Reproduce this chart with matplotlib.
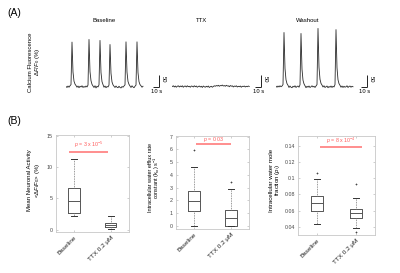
import matplotlib
matplotlib.use('Agg')
import matplotlib.pyplot as plt
import numpy as np

plt.rcParams['font.family'] = ['Liberation Sans', 'DejaVu Sans']
plt.rcParams['mathtext.fontset'] = 'custom'
plt.rcParams['mathtext.rm'] = 'Liberation Sans'
plt.rcParams['mathtext.it'] = 'Liberation Sans:italic'
plt.rcParams['mathtext.bf'] = 'Liberation Sans:bold'

# ---------------- data: panel A (calcium traces, dF/F0 in %) ----------------
trace_titles = ["Baseline", "TTX", "Washout"]
trace_baseline = [0, -4, 2, -3, 3, 8, 185, 60, 22, 10, 4, -3, 2, -5, 1, -2, 3, -4, 0, -3,
                  2, -2, 6, 196, 62, 24, 9, 2, -4, 3, -6, 1, -2, 7, 192, 58, 20, 8, -3, 2,
                  -5, 0, -2, 6, 175, 55, 19, 7, 1, -4, 2, -3, -5, 1, -4, -6, 0, -3, 2, 7,
                  186, 60, 21, 9, 2, -4, 3, -2, -5, 1, 6, 186, 58, 20, 8, 3, -3, 1]
trace_ttx = [0, 3, -2, 2, -3, 1, 3, -2, 2, -1, 3, -3, 1, 2, -2, 3, -1, 1, -3, 2,
             1, -2, 3, -1, 2, -3, 0, 2, -2, 1, -4, 2, -1, -3, 1, -2, 2, -4, -1, 1,
             -3, 0, 3, 1, 4, 2, 5, 1, 4, 3, 6, 2, 4, 1, 5, 2, 3, -1, 4, 1,
             3, -2, 2, 0, 3, -2, 1, -1, 2, -3, 1, 0, 2, -2, 1, -1, 2, 0]
trace_washout = [1, -3, 2, -2, 3, -1, 2, 8, 225, 75, 28, 12, 5, -4, 2, -3, -5, 1, -2, 3,
                 -4, 0, 2, -3, 7, 221, 72, 26, 11, 3, -5, 1, -3, 2, -4, -1, 3, -2, 1, -4,
                 2, 8, 242, 80, 30, 13, 6, -2, 3, -4, -1, 2, -5, 0, -3, 2, -4, 1, -2, 8,
                 237, 78, 28, 12, 5, -3, 2, -4, 1, -3, -1, 3, -4, 0, 2, -3, 1, -1]
sample_dt = 10 / 6.0          # seconds per sample
scale_time = 10               # s
scale_amp = 50                # %

# ---------------- data: panel B (box plots) ----------------
groups = ["Baseline", "TTX 0.2 \u03bcM"]

act_q1 = [2.67, 0.43]; act_med = [4.65, 0.75]; act_q3 = [6.6, 1.07]
act_lo = [2.2, 0.05];  act_hi = [11.3, 2.2];   act_fl = [[], []]
act_p = r"$p$ = 3 x 10$^{-5}$"

kio_q1 = [1.15, 0.0];  kio_med = [1.92, 0.63]; kio_q3 = [2.73, 1.23]
kio_lo = [0.0, 0.0];   kio_hi = [4.6, 2.86];   kio_fl = [[5.93], [3.46]]
kio_p = r"$p$ = 0.03"

pi_q1 = [0.0597, 0.0515]; pi_med = [0.0699, 0.0576]; pi_q3 = [0.0777, 0.0625]
pi_lo = [0.0433, 0.0392]; pi_hi = [0.0986, 0.0752]; pi_fl = [[0.1068], [0.0933, 0.0334]]
pi_p = r"$p$ = 8 x 10$^{-4}$"

act_ticks = [0, 5, 10, 15]
kio_ticks = [0, 1, 2, 3, 4, 5, 6, 7]
pi_ticks = [0.04, 0.06, 0.08, 0.1, 0.12, 0.14]
pi_ticklabels = ["0.04", "0.06", "0.08", "0.1", "0.12", "0.14"]

# ---------------- figure ----------------
W, H = 400, 273
fig = plt.figure(figsize=(W / 100, H / 100), dpi=100)


def px_axes(l, t, r, b):
    return fig.add_axes([l / W, 1 - b / H, (r - l) / W, (b - t) / H])


def ftext(x, y, s, **kw):
    return fig.text(x / W, 1 - y / H, s, **kw)


ftext(7, 13, "(A)", fontsize=7.5, va='center', ha='left')
ftext(7, 121, "(B)", fontsize=7.5, va='center', ha='left')

# ---- Panel A ----
px_per_amp = 12 / 50.0          # px per %
traces = [trace_baseline, trace_ttx, trace_washout]
trace_left = [66, 172.3, 276]
bar_left = [153.3, 255, 361.3]
title_x = [104, 202, 308]
base_y = 86.5
ax_top, ax_bot = 25, 97
for tr, l, bl, tx, title in zip(traces, trace_left, bar_left, title_x, trace_titles):
    r = bl + 20
    ax = px_axes(l, ax_top, r, ax_bot)
    t = np.arange(len(tr)) * sample_dt
    ax.plot(t, tr, color='#2a2a2a', lw=0.6)
    ax.set_xlim(0, (r - l) * sample_dt)
    ax.set_ylim(-(ax_bot - base_y) / px_per_amp, (base_y - ax_top) / px_per_amp)
    ax.axis('off')
    xb = (bl - l) * sample_dt
    ax.plot([xb, xb + scale_time], [0, 0], color='#222', lw=0.7, solid_capstyle='butt')
    ax.plot([xb + scale_time, xb + scale_time], [0, scale_amp], color='#222', lw=0.7,
            solid_capstyle='butt')
    ax.text(xb + scale_time / 2 + 0.5, -4.5 / px_per_amp, "10 s", fontsize=4.2,
            ha='center', va='center')
    ax.text(xb + scale_time + 4.5 * sample_dt, 30, "50", fontsize=4.2, rotation=270,
            ha='center', va='center')
    ftext(tx, 20, title, fontsize=4.3, ha='center', va='center')

ftext(30.5, 62, "Calcium Fluorescence", fontsize=4.3, rotation=90, ha='center', va='center')
ftext(37.5, 62, r"$\Delta F/F_0$ (%)", fontsize=4.3, rotation=90, ha='center', va='center')

# ---- Panel B ----
def boxpanel(rect, q1, med, q3, lo, hi, fl, ylim, ticks, ticklabels, ptext, pline_x, pline_y,
             ptext_xy):
    ax = px_axes(*rect)
    stats = []
    for i in range(2):
        stats.append(dict(q1=q1[i], med=med[i], q3=q3[i], whislo=lo[i], whishi=hi[i],
                          fliers=fl[i]))
    ax.bxp(stats, positions=[1, 2], widths=0.31, capwidths=0.16,
           boxprops=dict(color='#555555', lw=0.7),
           medianprops=dict(color='#555555', lw=0.7),
           whiskerprops=dict(color='#777777', lw=0.6, linestyle=(0, (1, 1))),
           capprops=dict(color='#333333', lw=0.7),
           flierprops=dict(marker='+', markersize=2, markeredgewidth=0.5,
                           markeredgecolor='#444444'))
    ax.set_xlim(0.5, 2.5)
    ax.set_ylim(*ylim)
    ax.set_yticks(ticks)
    ax.set_yticklabels(ticklabels)
    ax.set_xticks([1, 2])
    ax.set_xticklabels(groups, rotation=45, ha='right', rotation_mode='anchor',
                       fontsize=4.6, color='#222222')
    ax.tick_params(axis='y', labelsize=3.8, labelcolor='#444444', direction='in', length=1.5,
                   width=0.4, color='#aaaaaa', left=True, right=True, pad=2)
    ax.tick_params(axis='x', direction='in', length=1.5, width=0.4, color='#aaaaaa',
                   top=True, bottom=True, pad=2)
    for s in ax.spines.values():
        s.set_color('#c8c8c8')
        s.set_linewidth(0.6)
    ax.plot(pline_x, [pline_y, pline_y], color='#ff7070', lw=1.1, solid_capstyle='butt')
    ax.text(ptext_xy[0], ptext_xy[1], ptext, color='#ff5a5a', fontsize=3.8, ha='center',
            va='bottom')
    return ax


boxpanel((55.65, 135, 129, 231.7), act_q1, act_med, act_q3, act_lo, act_hi, act_fl,
         (-0.32, 15.16), act_ticks, [str(v) for v in act_ticks], act_p,
         [0.86, 1.93], 12.5, (1.4, 12.75))
boxpanel((175.7, 136, 249.3, 229.3), kio_q1, kio_med, kio_q3, kio_lo, kio_hi, kio_fl,
         (-0.26, 7.05), kio_ticks, [str(v) for v in kio_ticks], kio_p,
         [1.04, 1.99], 6.4, (1.52, 6.42))
boxpanel((298.3, 135.7, 374.7, 235), pi_q1, pi_med, pi_q3, pi_lo, pi_hi, pi_fl,
         (0.0302, 0.1523), pi_ticks, pi_ticklabels, pi_p,
         [1.07, 2.18], 0.138, (1.62, 0.1395))

ftext(30, 180, "Mean Neuronal Activity", fontsize=4.3, rotation=90, ha='center', va='center')
ftext(37, 180, r"<$\Delta F/F_0$> (%)", fontsize=4.3, rotation=90, ha='center', va='center')
ftext(150.7, 178, "Intracellular water efflux rate", fontsize=4.0, rotation=90,
      ha='center', va='center')
ftext(157.3, 178, r"constant (k$_{io}$) s$^{-1}$", fontsize=4.0, rotation=90,
      ha='center', va='center')
ftext(271.3, 180, "Intracellular water mole", fontsize=4.4, rotation=90,
      ha='center', va='center')
ftext(277.8, 180, r"fraction ($p_i$)", fontsize=4.4, rotation=90,
      ha='center', va='center')

fig.savefig("out.png", dpi=100)
